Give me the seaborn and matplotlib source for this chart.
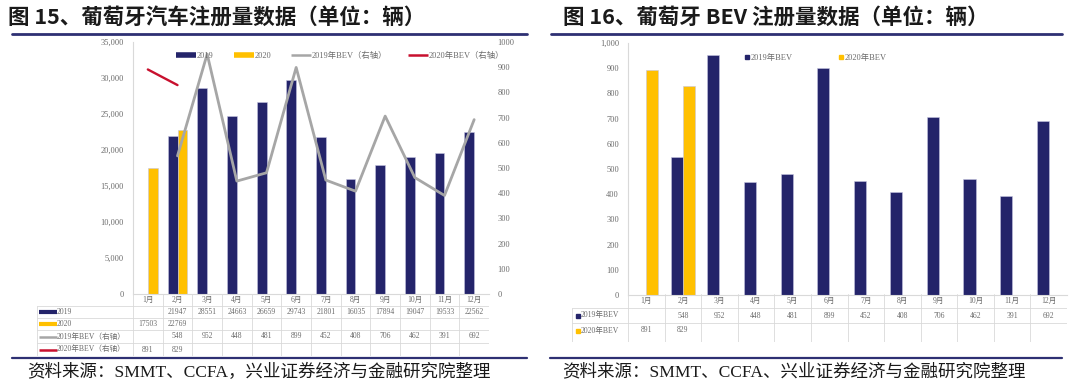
import numpy as np
import pandas as pd
import matplotlib.pyplot as plt
import seaborn as sns
from matplotlib.lines import Line2D
from matplotlib.ticker import FuncFormatter, MultipleLocator

sns.set_style('white')
plt.rcParams['font.family'] = ['Liberation Serif', 'Noto Sans CJK SC', 'DejaVu Sans']

# data
months = ['1月', '2月', '3月', '4月', '5月', '6月', '7月', '8月', '9月', '10月', '11月', '12月']
reg_2019 = [np.nan, 21947, 28551, 24663, 26659, 29743, 21801, 16035, 17894, 19047, 19533, 22562]
reg_2020 = [17503, 22769] + [np.nan] * 10
bev_2019 = [np.nan, 548, 952, 448, 481, 899, 452, 408, 706, 462, 391, 692]
bev_2020 = [891, 829] + [np.nan] * 10

NAVY = '#24246a'
GOLD = '#ffc000'
GREY = '#a6a6a6'
RED = '#c8102e'
RULE = '#2e3073'
GRID = '#d9d9d9'
TXT = '#6b6b6b'
CJK = ['Noto Sans CJK SC', 'DejaVu Sans']

W, H = 1080, 392
fig = plt.figure(figsize=(W / 100, H / 100), dpi=100)


def box(x0, y0, x1, y1):
    return [x0 / W, 1 - y1 / H, (x1 - x0) / W, (y1 - y0) / H]


def hline(x0, x1, y, **kw):
    fig.add_artist(Line2D([x0 / W, x1 / W], [1 - y / H, 1 - y / H], **kw))


def fmt(v):
    return '' if pd.isna(v) else f'{int(v)}'


def draw_table(left, plot_left, right, top, edges, vbottom, names, keys, rows, bottom_line):
    colw = (right - plot_left) / len(months)
    lw = (plot_left - left) / colw
    t = fig.add_axes(box(left, top, right, vbottom))
    t.set_xlim(-0.5 - lw, len(months) - 0.5)
    t.set_ylim(vbottom, top)
    t.axis('off')
    # month header row
    for i, m in enumerate(months):
        t.text(i, (top + edges[0]) / 2, m, ha='center', va='center', fontsize=5.5, color=TXT)
    for i in range(len(months) + 1):
        t.plot([i - 0.5, i - 0.5], [top, vbottom], color=GRID, lw=0.6)
    t.plot([-0.5 - lw, -0.5 - lw], [edges[0], vbottom], color=GRID, lw=0.6)
    hs = edges if bottom_line else edges[:-1]
    for y in hs:
        t.plot([-0.5 - lw, len(months) - 0.5], [y, y], color=GRID, lw=0.6)
    for r, (name, key, vals) in enumerate(zip(names, keys, rows)):
        yc = (edges[r] + edges[r + 1]) / 2
        key(t, -0.5 - lw, yc)
        t.text(-0.5 - lw + key.offset, yc, name, ha='left', va='center', fontsize=5.5, color=TXT)
        for i, v in enumerate(vals):
            t.text(i, yc, fmt(v), ha='center', va='center', fontsize=5.5, color=TXT)


def line_key(color, lw):
    def k(ax, x, y):
        ax.plot([x + 0.07, x + 0.68], [y, y], color=color, lw=lw, solid_capstyle='butt')
    k.offset = 0.66
    return k


def square_key(color):
    def k(ax, x, y):
        ax.plot([x + 0.16], [y], marker='s', color=color, markersize=3.2, linestyle='none')
    k.offset = 0.24
    return k


# ---------------- left panel: registrations ----------------
fig.text(8 / W, 1 - 17 / H, '图 15、葡萄牙汽车注册量数据（单位：辆）', fontsize=15.5,
         fontweight='bold', family=CJK, va='center', color='#1a1a1a')
hline(12, 527, 34, color=RULE, lw=2)

ax1 = fig.add_axes(box(133, 42, 489, 294))
df1 = pd.DataFrame({'month': months * 2, 'value': reg_2019 + reg_2020,
                    'series': ['2019'] * 12 + ['2020'] * 12})
sns.barplot(data=df1, x='month', y='value', hue='series', order=months,
            hue_order=['2019', '2020'], palette=[NAVY, GOLD], width=0.67,
            saturation=1, legend=False, ax=ax1, edgecolor='#c5c5e0', linewidth=0.4)
ax1.set_ylim(0, 35000)
ax1.yaxis.set_major_locator(MultipleLocator(5000))
ax1.yaxis.set_major_formatter(FuncFormatter(lambda v, p: f'{v:,.0f}'))
ax1.set_xlabel('')
ax1.set_ylabel('')
ax1.tick_params(axis='x', length=0, labelbottom=False)
ax1.tick_params(axis='y', length=0, pad=6.5, labelsize=6, labelcolor=TXT)
for s in ['top', 'right']:
    ax1.spines[s].set_visible(False)
for s in ['left', 'bottom']:
    ax1.spines[s].set_color(GRID)
    ax1.spines[s].set_linewidth(0.8)

ax1r = ax1.twinx()
pos = np.arange(len(months))
d19 = pd.DataFrame({'x': pos, 'y': bev_2019}).dropna()
d20 = pd.DataFrame({'x': pos, 'y': bev_2020}).dropna()
sns.lineplot(data=d19, x='x', y='y', ax=ax1r, color=GREY, lw=2)
sns.lineplot(data=d20, x='x', y='y', ax=ax1r, color=RED, lw=1.7)
ax1r.set_xlim(-0.5, len(months) - 0.5)
ax1r.set_ylim(0, 1000)
ax1r.yaxis.set_major_locator(MultipleLocator(100))
ax1r.set_ylabel('')
ax1r.tick_params(axis='y', length=0, pad=6, labelsize=6, labelcolor=TXT)
for s in ax1r.spines.values():
    s.set_visible(False)

handles = [Line2D([], [], color=NAVY, lw=4, solid_capstyle='butt'),
           Line2D([], [], color=GOLD, lw=4, solid_capstyle='butt'),
           Line2D([], [], color=GREY, lw=1.8, solid_capstyle='butt'),
           Line2D([], [], color=RED, lw=1.8, solid_capstyle='butt')]
labels = ['2019', '2020', '2019年BEV（右轴）', '2020年BEV（右轴）']
fig.legend(handles, labels, loc='center', bbox_to_anchor=(340 / W, 1 - 56 / H), ncol=4,
           frameon=False, fontsize=6, handlelength=2.4, handletextpad=0.1,
           columnspacing=2.4, labelcolor=TXT)

draw_table(37, 133, 489, 294, [306, 318, 330, 343, 356], 356, labels,
           [line_key(NAVY, 3), line_key(GOLD, 3), line_key(GREY, 1.8), line_key(RED, 1.8)],
           [reg_2019, reg_2020, bev_2019, bev_2020], True)

hline(12, 527, 358, color=RULE, lw=1.6)
fig.text(27 / W, 1 - 372 / H, '资料来源：SMMT、CCFA，兴业证券经济与金融研究院整理',
         fontsize=12.6, va='center', color='#1a1a1a')

# ---------------- right panel: BEV ----------------
fig.text(563 / W, 1 - 17 / H, '图 16、葡萄牙 BEV 注册量数据（单位：辆）', fontsize=15.5,
         fontweight='bold', family=CJK, va='center', color='#1a1a1a')
hline(551, 1062, 34, color=RULE, lw=2)

ax2 = fig.add_axes(box(628, 43, 1067, 295))
df2 = pd.DataFrame({'month': months * 2, 'value': bev_2019 + bev_2020,
                    'series': ['2019年BEV'] * 12 + ['2020年BEV'] * 12})
sns.barplot(data=df2, x='month', y='value', hue='series', order=months,
            hue_order=['2019年BEV', '2020年BEV'], palette=[NAVY, GOLD], width=0.66,
            saturation=1, legend=False, ax=ax2, edgecolor='#c5c5e0', linewidth=0.4)
ax2.set_ylim(0, 1000)
ax2.yaxis.set_major_locator(MultipleLocator(100))
ax2.yaxis.set_major_formatter(FuncFormatter(lambda v, p: f'{v:,.0f}'))
ax2.set_xlabel('')
ax2.set_ylabel('')
ax2.tick_params(axis='x', length=0, labelbottom=False)
ax2.tick_params(axis='y', length=0, pad=6.5, labelsize=6, labelcolor=TXT)
for s in ['top', 'right']:
    ax2.spines[s].set_visible(False)
for s in ['left', 'bottom']:
    ax2.spines[s].set_color(GRID)
    ax2.spines[s].set_linewidth(0.8)

handles2 = [Line2D([], [], marker='s', color=NAVY, markersize=3.5, linestyle='none'),
            Line2D([], [], marker='s', color=GOLD, markersize=3.5, linestyle='none')]
labels2 = ['2019年BEV', '2020年BEV']
fig.legend(handles2, labels2, loc='center', bbox_to_anchor=(816 / W, 1 - 58 / H), ncol=2,
           frameon=False, fontsize=6, handlelength=0.5, handletextpad=0.2,
           columnspacing=5.5, labelcolor=TXT)

draw_table(572, 628, 1067, 294, [308, 323, 338], 342, labels2,
           [square_key(NAVY), square_key(GOLD)], [bev_2019, bev_2020], False)

hline(550, 1062, 358, color=RULE, lw=1.6)
fig.text(562 / W, 1 - 372 / H, '资料来源：SMMT、CCFA、兴业证券经济与金融研究院整理',
         fontsize=12.6, va='center', color='#1a1a1a')

fig.savefig('out.png', dpi=100)
